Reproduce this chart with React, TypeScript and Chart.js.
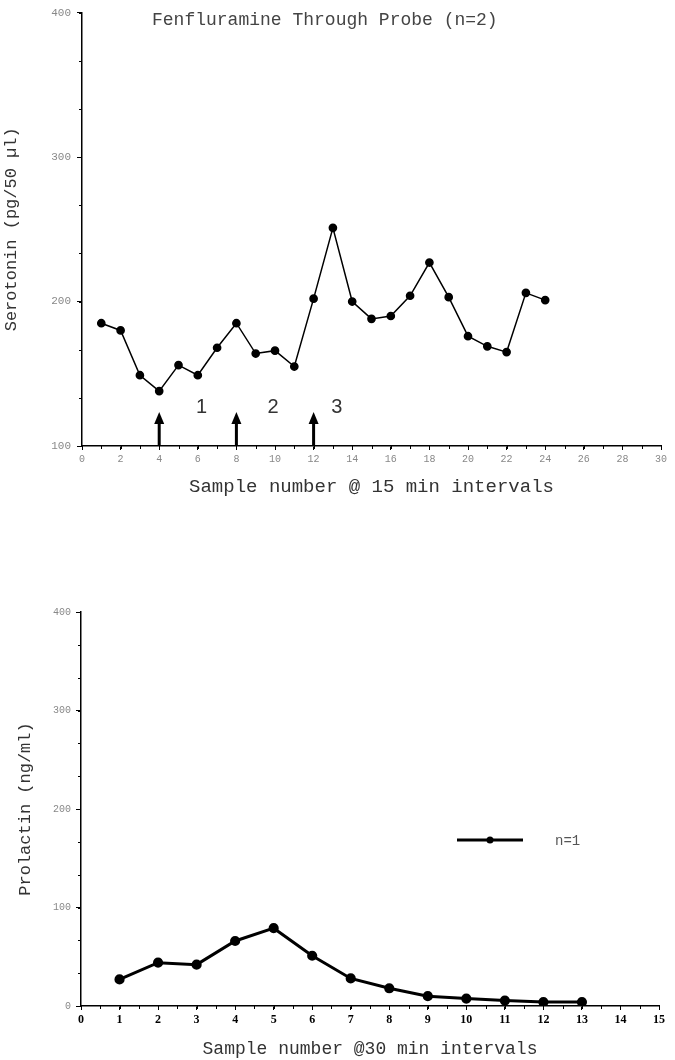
import React, { useEffect, useRef } from 'react';
import { Chart, registerables } from 'chart.js';

Chart.register(...registerables);

// ---- Top chart data (Serotonin) ----
const serotoninSamples = [1, 2, 3, 4, 5, 6, 7, 8, 9, 10, 11, 12, 13, 14, 15, 16, 17, 18, 19, 20, 21, 22, 23, 24];
const serotoninValues = [185, 180, 149, 138, 156, 149, 168, 185, 164, 166, 155, 202, 251, 200, 188, 190, 204, 227, 203, 176, 169, 165, 206, 201];
const serotoninXTicks = [0, 2, 4, 6, 8, 10, 12, 14, 16, 18, 20, 22, 24, 26, 28, 30];
const serotoninYTicks = [100, 200, 300, 400];
const arrowSamples = [4, 8, 12];
const phaseLabels = ['1', '2', '3'];
const phaseLabelX = [6.2, 9.9, 13.2];
const phaseLabelValue = 127;

// ---- Bottom chart data (Prolactin) ----
const prolactinSamples = [1, 2, 3, 4, 5, 6, 7, 8, 9, 10, 11, 12, 13];
const prolactinValues = [27, 44, 42, 66, 79, 51, 28, 18, 10, 7.5, 5.5, 4, 4];
const prolactinXTicks = [0, 1, 2, 3, 4, 5, 6, 7, 8, 9, 10, 11, 12, 13, 14, 15];
const prolactinYTicks = [0, 100, 200, 300, 400];

const MONO = '"Liberation Mono", "DejaVu Sans Mono", monospace';

function minorTicksPlugin(xStep: number, yStep: number) {
  return {
    id: 'minorTicks',
    afterDraw(chart: any) {
      const ctx = chart.ctx;
      const xs = chart.scales.x;
      const ys = chart.scales.y;
      ctx.save();
      ctx.strokeStyle = '#000';
      ctx.lineWidth = 1;
      ctx.beginPath();
      const nx = Math.round((xs.max - xs.min) / xStep);
      for (let i = 0; i <= nx; i++) {
        const px = Math.round(xs.getPixelForValue(xs.min + i * xStep)) + 0.5;
        ctx.moveTo(px, xs.top);
        ctx.lineTo(px, xs.top + 3);
      }
      const ny = Math.round((ys.max - ys.min) / yStep);
      for (let i = 0; i <= ny; i++) {
        const py = Math.round(ys.getPixelForValue(ys.min + i * yStep)) + 0.5;
        ctx.moveTo(ys.right, py);
        ctx.lineTo(ys.right - 3, py);
      }
      ctx.stroke();
      ctx.restore();
    },
  };
}

const topAnnotations = {
  id: 'topAnnotations',
  afterDatasetsDraw(chart: any) {
    const ctx = chart.ctx;
    const xs = chart.scales.x;
    const ys = chart.scales.y;
    const area = chart.chartArea;
    ctx.save();
    // title
    ctx.fillStyle = '#444';
    ctx.font = `18px ${MONO}`;
    ctx.textAlign = 'left';
    ctx.textBaseline = 'middle';
    ctx.fillText('Fenfluramine Through Probe (n=2)', area.left + 70, area.top + 8);
    // arrows
    ctx.fillStyle = '#000';
    ctx.strokeStyle = '#000';
    arrowSamples.forEach((v) => {
      const px = xs.getPixelForValue(v);
      const base = ys.bottom;
      const tip = base - 34;
      ctx.lineWidth = 3;
      ctx.beginPath();
      ctx.moveTo(px, base);
      ctx.lineTo(px, tip + 10);
      ctx.stroke();
      ctx.beginPath();
      ctx.moveTo(px - 5, tip + 12);
      ctx.lineTo(px + 5, tip + 12);
      ctx.lineTo(px, tip);
      ctx.closePath();
      ctx.fill();
    });
    // phase labels
    ctx.fillStyle = '#333';
    ctx.font = '20px "Liberation Sans", Arial, sans-serif';
    ctx.textAlign = 'center';
    phaseLabels.forEach((t, i) => {
      ctx.fillText(t, xs.getPixelForValue(phaseLabelX[i]), ys.getPixelForValue(phaseLabelValue));
    });
    ctx.restore();
  },
};

const bottomLegend = {
  id: 'bottomLegend',
  afterDatasetsDraw(chart: any) {
    const ctx = chart.ctx;
    const area = chart.chartArea;
    const ds = chart.data.datasets[0];
    const y = area.top + 228;
    const x0 = area.left + 376;
    ctx.save();
    ctx.strokeStyle = ds.borderColor;
    ctx.lineWidth = ds.borderWidth;
    ctx.beginPath();
    ctx.moveTo(x0, y);
    ctx.lineTo(x0 + 66, y);
    ctx.stroke();
    ctx.fillStyle = ds.pointBackgroundColor;
    ctx.beginPath();
    ctx.arc(x0 + 33, y, 3.5, 0, Math.PI * 2);
    ctx.fill();
    ctx.fillStyle = '#555';
    ctx.font = `14px ${MONO}`;
    ctx.textAlign = 'left';
    ctx.textBaseline = 'middle';
    ctx.fillText(ds.label, x0 + 98, y + 1);
    ctx.restore();
  },
};

function SerotoninChart() {
  const ref = useRef<HTMLCanvasElement>(null);
  useEffect(() => {
    if (!ref.current) return;
    const chart = new Chart(ref.current, {
      type: 'line',
      data: {
        datasets: [
          {
            label: 'Serotonin',
            data: serotoninSamples.map((x, i) => ({ x, y: serotoninValues[i] })),
            borderColor: '#000',
            borderWidth: 1.5,
            pointBackgroundColor: '#000',
            pointBorderColor: '#000',
            pointRadius: 3.6,
            tension: 0,
          },
        ],
      },
      options: {
        responsive: false,
        animation: false,
        layout: { padding: { left: 0, right: 14, top: 12, bottom: 0 } },
        plugins: { legend: { display: false }, tooltip: { enabled: false } },
        scales: {
          x: {
            type: 'linear',
            min: 0,
            max: 30,
            afterBuildTicks: (s: any) => {
              s.ticks = serotoninXTicks.map((v) => ({ value: v }));
            },
            afterFit: (s: any) => {
              s.height = 84;
            },
            border: { display: true, color: '#000', width: 1.5 },
            grid: { display: true, drawOnChartArea: false, drawTicks: true, tickLength: 4, color: '#000', tickColor: '#000' },
            ticks: { color: '#888', font: { family: MONO, size: 10 }, padding: 3, maxRotation: 0, autoSkip: false },
            title: {
              display: true,
              text: 'Sample number @ 15 min intervals',
              color: '#333',
              font: { family: MONO, size: 19 },
              padding: { top: 0, bottom: 32 },
            },
          },
          y: {
            type: 'linear',
            min: 100,
            max: 400,
            afterBuildTicks: (s: any) => {
              s.ticks = serotoninYTicks.map((v) => ({ value: v }));
            },
            afterFit: (s: any) => {
              s.width = 82;
            },
            border: { display: true, color: '#000', width: 1.5 },
            grid: { display: true, drawOnChartArea: false, drawTicks: true, tickLength: 5, color: '#000', tickColor: '#000' },
            ticks: { color: '#888', font: { family: MONO, size: 11 }, padding: 6 },
            title: {
              display: true,
              text: 'Serotonin (pg/50 µl)',
              color: '#333',
              font: { family: MONO, size: 17 },
              padding: { top: 1, bottom: 0 },
            },
          },
        },
      },
      plugins: [minorTicksPlugin(1, 100 / 3), topAnnotations],
    } as any);
    return () => chart.destroy();
  }, []);
  return <canvas ref={ref} width={675} height={530} style={{ display: 'block' }} />;
}

function ProlactinChart() {
  const ref = useRef<HTMLCanvasElement>(null);
  useEffect(() => {
    if (!ref.current) return;
    const chart = new Chart(ref.current, {
      type: 'line',
      data: {
        datasets: [
          {
            label: 'n=1',
            data: prolactinSamples.map((x, i) => ({ x, y: prolactinValues[i] })),
            borderColor: '#000',
            borderWidth: 3,
            pointBackgroundColor: '#000',
            pointBorderColor: '#000',
            pointRadius: 3.6,
            tension: 0,
          },
        ],
      },
      options: {
        responsive: false,
        animation: false,
        layout: { padding: { left: 0, right: 16, top: 82, bottom: 0 } },
        plugins: { legend: { display: false }, tooltip: { enabled: false } },
        scales: {
          x: {
            type: 'linear',
            min: 0,
            max: 15,
            afterBuildTicks: (s: any) => {
              s.ticks = prolactinXTicks.map((v) => ({ value: v }));
            },
            afterFit: (s: any) => {
              s.height = 54;
            },
            border: { display: true, color: '#000', width: 1.5 },
            grid: { display: true, drawOnChartArea: false, drawTicks: true, tickLength: 4, color: '#000', tickColor: '#000' },
            ticks: {
              color: '#000',
              font: { family: '"Liberation Serif", "DejaVu Serif", serif', size: 12, weight: 'bold' },
              padding: 3,
              maxRotation: 0,
              autoSkip: false,
            },
            title: {
              display: true,
              text: 'Sample number @30 min intervals',
              color: '#333',
              font: { family: MONO, size: 18 },
              padding: { top: 0, bottom: 0 },
            },
          },
          y: {
            type: 'linear',
            min: 0,
            max: 400,
            afterBuildTicks: (s: any) => {
              s.ticks = prolactinYTicks.map((v) => ({ value: v }));
            },
            afterFit: (s: any) => {
              s.width = 81;
            },
            border: { display: true, color: '#000', width: 1.5 },
            grid: { display: true, drawOnChartArea: false, drawTicks: true, tickLength: 5, color: '#000', tickColor: '#000' },
            ticks: { color: '#888', font: { family: MONO, size: 10 }, padding: 5 },
            title: {
              display: true,
              text: 'Prolactin (ng/ml)',
              color: '#333',
              font: { family: MONO, size: 17 },
              padding: { top: 15, bottom: 0 },
            },
          },
        },
      },
      plugins: [minorTicksPlugin(0.5, 100 / 3), bottomLegend],
    } as any);
    return () => chart.destroy();
  }, []);
  return <canvas ref={ref} width={675} height={530} style={{ display: 'block' }} />;
}

export default function App() {
  return (
    <div style={{ position: 'absolute', left: 0, top: 0, width: 675, height: 1060, background: '#fff' }}>
      <SerotoninChart />
      <ProlactinChart />
    </div>
  );
}
